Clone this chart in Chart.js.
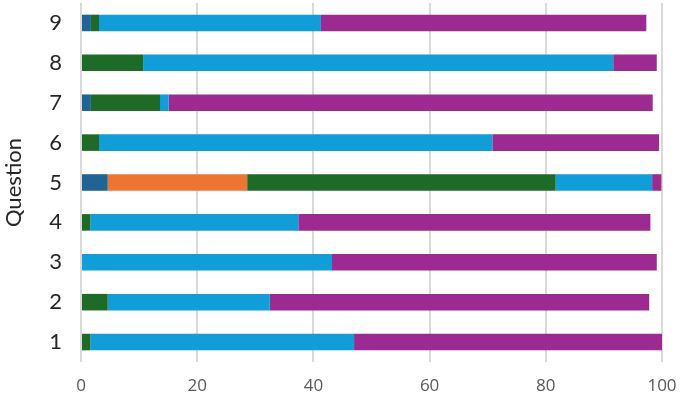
<!DOCTYPE html>
<html>
<head>
<meta charset="utf-8">
<script src="https://cdn.jsdelivr.net/npm/chart.js@4/dist/chart.umd.min.js"></script>
<style>
  html, body { margin: 0; padding: 0; background: #fff; }
</style>
</head>
<body>
<canvas id="questionChart" width="680" height="397"></canvas>
<script>
// Questions, bottom to top
const questions = ["1", "2", "3", "4", "5", "6", "7", "8", "9"];

// Share of responses per question (percent)
const darkBlue  = [0,    0,    0,    0,    4.6,  0,    1.7,  0,    1.7];
const orange    = [0,    0,    0,    0,    24.0, 0,    0,    0,    0];
const green     = [1.6,  4.6,  0,    1.6,  53.1, 3.1,  11.9, 10.7, 1.4];
const lightBlue = [45.4, 27.9, 43.2, 35.8, 16.6, 67.7, 1.5,  80.9, 38.2];
const purple    = [53.0, 65.3, 55.9, 60.6, 1.6,  28.7, 83.3, 7.5,  56.0];

const xTicks = [0, 20, 40, 60, 80, 100];

const series = [
  { label: "Response A", data: darkBlue,  color: "#1f6494" },
  { label: "Response B", data: orange,    color: "#ec7533" },
  { label: "Response C", data: green,     color: "#1d6b27" },
  { label: "Response D", data: lightBlue, color: "#119dd7" },
  { label: "Response E", data: purple,    color: "#9c2a90" },
];

const ctx = document.getElementById("questionChart").getContext("2d");

new Chart(ctx, {
  type: "bar",
  data: {
    labels: questions,
    datasets: series.map(s => ({
      label: s.label,
      data: s.data,
      backgroundColor: s.color,
      borderWidth: 0,
      barPercentage: 0.415,
      categoryPercentage: 1,
    }))
  },
  options: {
    indexAxis: "y",
    responsive: false,
    animation: false,
    layout: { padding: { top: 3, right: 18, bottom: 0, left: 0 } },
    plugins: {
      legend: { display: false },
      tooltip: { enabled: false }
    },
    scales: {
      x: {
        stacked: true,
        min: 0,
        max: 100,
        afterBuildTicks: (scale) => {
          scale.ticks = xTicks.map(v => ({ value: v }));
        },
        // keep the plot area where the reference has it
        afterFit: (scale) => {
          scale.height = 35;
          scale.paddingLeft = 0;
          scale.paddingRight = 0;
        },
        grid: { color: "#d9d9d9", lineWidth: 2, drawTicks: false },
        border: { display: false },
        ticks: {
          padding: 14,
          maxRotation: 0,
          color: "#595959",
          font: { family: "'Open Sans', sans-serif", size: 17 }
        }
      },
      y: {
        stacked: true,
        reverse: true,
        afterFit: (scale) => {
          scale.width = 81;
          scale.paddingTop = 0;
          scale.paddingBottom = 0;
        },
        grid: { display: false, drawTicks: false },
        border: { display: false },
        ticks: {
          padding: 19,
          color: "#262626",
          font: { family: "Lato, sans-serif", size: 22 }
        },
        title: {
          display: true,
          text: "Question",
          color: "#262626",
          padding: { top: 1, bottom: 0 },
          font: { family: "Lato, sans-serif", size: 22 }
        }
      }
    }
  }
});
</script>
</body>
</html>
